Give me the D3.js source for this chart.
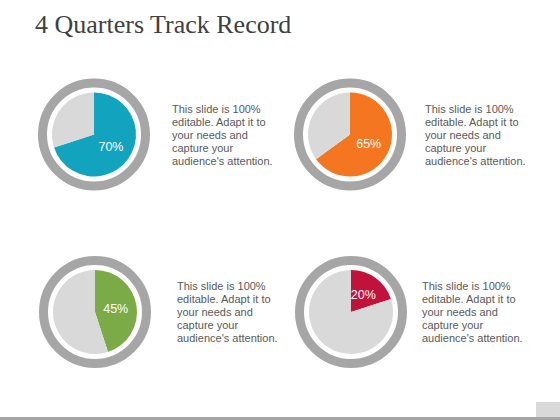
<!DOCTYPE html>
<html>
<head>
<meta charset="utf-8">
<script src="https://cdn.jsdelivr.net/npm/d3@7"></script>
<style>
html,body{margin:0;padding:0;background:#fff;}
svg{display:block;}
</style>
</head>
<body>
<svg id="chart" width="560" height="420"></svg>
<script>
const title = "4 Quarters Track Record";
const quarters = ["Q1", "Q2", "Q3", "Q4"];
const percents = [70, 65, 45, 20];
const colors = ["#12a4bf", "#f47621", "#7aab47", "#c0123a"];
const descLines = ["This slide is 100%", "editable. Adapt it to", "your needs and", "capture your", "audience's attention."];

const svg = d3.select("#chart");
const W = 560, H = 420;

svg.append("rect").attr("width", W).attr("height", H).attr("fill", "#fff");

svg.append("text")
  .attr("x", 35).attr("y", 33)
  .attr("font-family", "'Liberation Serif', 'Times New Roman', serif")
  .attr("font-size", 26)
  .attr("fill", "#404040")
  .text(title);

// layout
const cx = d3.scaleOrdinal().domain(quarters).range([94, 350, 95, 351]);
const cy = d3.scaleOrdinal().domain(quarters).range([134.5, 134.5, 312, 312]);
const tx = d3.scaleOrdinal().domain(quarters).range([172, 425, 177, 422]);

const pieR = 42, ringR = 51.5, ringW = 9;
const pie = d3.pie().sort(null).value(d => d);
const arc = d3.arc().innerRadius(0).outerRadius(pieR);
const labelArc = d3.arc().innerRadius(0).outerRadius(pieR);

quarters.forEach((q, i) => {
  const g = svg.append("g").attr("transform", `translate(${cx(q)},${cy(q)})`);
  g.append("circle").attr("r", ringR).attr("fill", "none")
    .attr("stroke", "#a6a6a6").attr("stroke-width", ringW);
  const arcs = pie([percents[i], 100 - percents[i]]);
  g.selectAll("path").data(arcs).join("path")
    .attr("d", arc)
    .attr("fill", (d, j) => j === 0 ? colors[i] : "#d9d9d9");
  const c = labelArc.centroid(arcs[0]);
  g.append("text")
    .attr("x", c[0]).attr("y", c[1])
    .attr("text-anchor", "middle").attr("dominant-baseline", "central")
    .attr("font-family", "'Liberation Sans', Arial, sans-serif")
    .attr("font-size", 12.5)
    .attr("fill", "#fff")
    .text(percents[i] + "%");

  const t = svg.append("text")
    .attr("font-family", "'Liberation Sans', Arial, sans-serif")
    .attr("font-size", 11)
    .attr("fill", "#595959");
  descLines.forEach((line, k) => {
    t.append("tspan")
      .attr("x", tx(q))
      .attr("y", cy(q) - 26 + k * 13 + 4)
      .text(line);
  });
});

// bottom decoration
svg.append("rect").attr("x", 536).attr("y", 402).attr("width", 24).attr("height", 15)
  .attr("fill", "#d9d9d9");
svg.append("rect").attr("x", 0).attr("y", 417).attr("width", W).attr("height", 3)
  .attr("fill", "#a6a6a6");
</script>
</body>
</html>
